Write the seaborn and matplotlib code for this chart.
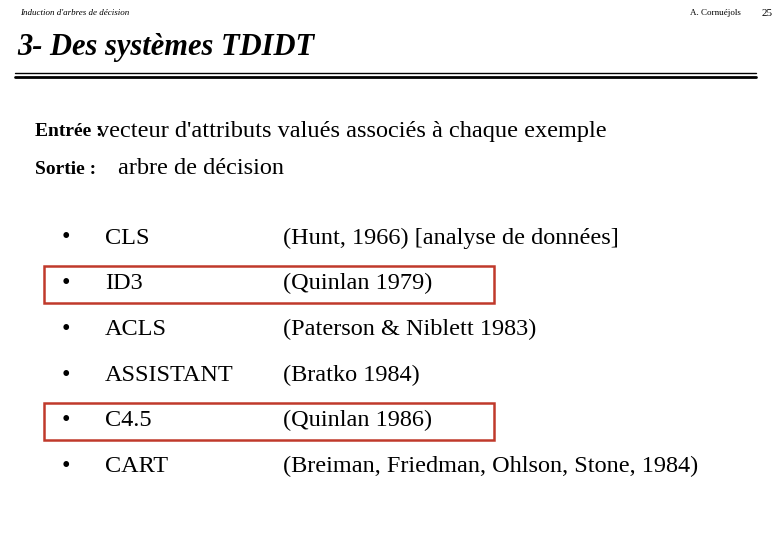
import matplotlib
matplotlib.use("Agg")
import matplotlib.pyplot as plt
import seaborn as sns
from matplotlib.patches import Rectangle

sns.set_style("white")
plt.rcParams['font.family'] = ['Liberation Serif', 'DejaVu Serif']
plt.rcParams['text.color'] = 'black'

header_left = "Induction d'arbres de décision"
header_author = "A. Cornuéjols"
page_num = "25"
title = "3- Des systèmes TDIDT"
io_labels = ["Entrée :", "Sortie :"]
io_texts = ["vecteur d'attributs valués associés à chaque exemple", "arbre de décision"]
systems = ["CLS", "ID3", "ACLS", "ASSISTANT", "C4.5", "CART"]
refs = ["(Hunt, 1966) [analyse de données]", "(Quinlan 1979)", "(Paterson & Niblett 1983)",
        "(Bratko 1984)", "(Quinlan 1986)", "(Breiman, Friedman, Ohlson, Stone, 1984)"]
highlighted = [False, True, False, False, True, False]

fig = plt.figure(figsize=(7.8, 5.4), dpi=100)
ax = fig.add_axes([0, 0, 1, 1])
ax.set_xlim(0, 780)
ax.set_ylim(540, 0)
ax.axis("off")

ax.text(20, 13, header_left, fontsize=6.5, style="italic", va="center")
ax.text(690, 13, header_author, fontsize=6.5, va="center")
ax.text(762, 13, page_num, fontsize=8, va="center")
ax.text(17, 47, title, fontsize=22, style="italic", weight="bold", va="center")
ax.plot([15, 756], [73, 73], color="black", lw=1)
ax.plot([15, 756], [76.5, 76.5], color="black", lw=2)

fs = 17.5
io_x = [97, 118]
for i, (lab, txt) in enumerate(zip(io_labels, io_texts)):
    y = 132 + i * 37
    ax.text(35, y, lab, fontsize=14, weight="bold", va="center")
    ax.text(io_x[i], y, txt, fontsize=fs, va="center")

for i, (name, ref, hl) in enumerate(zip(systems, refs, highlighted)):
    y = 238 + i * 45.7
    ax.text(62, y, "•", fontsize=fs, va="center")
    ax.text(105, y, name, fontsize=fs, va="center")
    ax.text(283, y, ref, fontsize=fs, va="center")
    if hl:
        ax.add_patch(Rectangle((44, y - 18), 450, 37, fill=False,
                               edgecolor="#c0392b", lw=1.8))

fig.savefig("out.png", dpi=100)
